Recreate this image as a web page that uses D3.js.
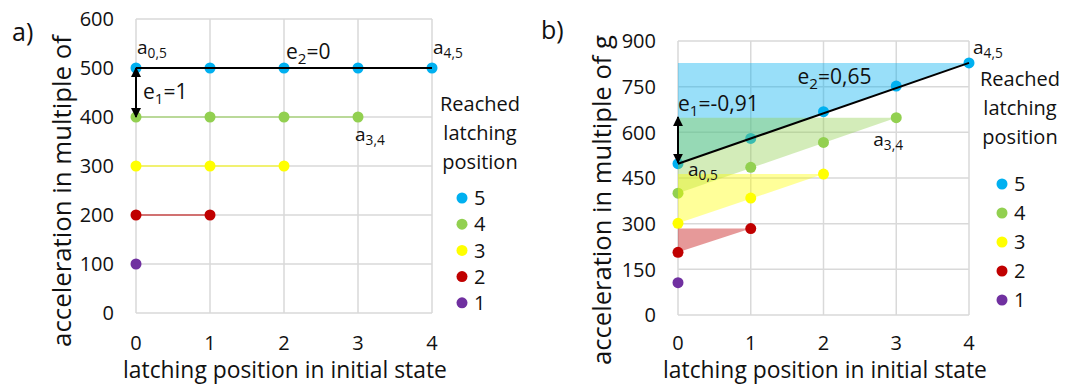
<!DOCTYPE html>
<html lang="en">
<head>
    <meta charset="UTF-8">
    <title>Latching position acceleration</title>
    <script src="https://cdn.jsdelivr.net/npm/d3@7/dist/d3.min.js"></script>
    <style>
        body { margin: 0; background: #fff; }
        text { font-family: "Open Sans", sans-serif; fill: #111; }
    </style>
</head>
<body>
<script type="application/javascript">
    // x categories and legend
    const positions = [0, 1, 2, 3, 4];
    const reached = [5, 4, 3, 2, 1];
    const colors = ['#00b0f0', '#92d050', '#ffff00', '#c00000', '#7030a0'];

    // panel a) values, one array per reached position
    const a5 = [500, 500, 500, 500, 500];
    const a4 = [400, 400, 400, 400];
    const a3 = [300, 300, 300];
    const a2 = [200, 200];
    const a1 = [100];
    const ticksA = [0, 100, 200, 300, 400, 500, 600];
    const arrowA = [500, 400];

    // panel b) values
    const b5 = [497, 580, 668, 752, 828];
    const b4 = [400, 485, 567, 648];
    const b3 = [301, 384, 463];
    const b2 = [206, 284];
    const b1 = [106];
    const ticksB = [0, 150, 300, 450, 600, 750, 900];
    const arrowB = [500, 650];

    const W = 1081, H = 385;
    let svg = d3.select('body')
        .append('svg')
        .attr('width', W)
        .attr('height', H);

    let defs = svg.append('defs');
    defs.append('marker')
        .attr('id', 'head')
        .attr('viewBox', '0 0 10 10')
        .attr('refX', 9).attr('refY', 5)
        .attr('markerWidth', 5).attr('markerHeight', 5)
        .attr('orient', 'auto-start-reverse')
        .append('path')
        .attr('d', 'M0,0 L10,5 L0,10 Z')
        .attr('fill', '#000');

    // text with a subscript part
    function sub(g, x, y, main, low, size) {
        let t = g.append('text')
            .attr('x', x).attr('y', y)
            .attr('font-size', size);
        t.append('tspan').text(main);
        t.append('tspan').attr('font-size', size * 0.72).attr('dy', size * 0.22).text(low);
        return t;
    }
    function rest(t, s, size) {
        t.append('tspan').attr('dy', -size * 0.22).attr('font-size', size).text(s);
        return t;
    }

    // scale font so that the text is w pixels wide
    function fit(t, w) {
        let size = +t.attr('font-size');
        let len = t.node().getComputedTextLength();
        t.attr('font-size', (size * w / len).toFixed(2));
    }

    function panel(o) {
        let g = svg.append('g');
        let x = d3.scaleLinear().domain([0, 4]).range(o.xr);
        let y = d3.scaleLinear().domain([0, d3.max(o.ticks)]).range(o.yr);

        // grid
        g.selectAll('.vg').data(positions).enter().append('line')
            .attr('x1', d => x(d)).attr('x2', d => x(d))
            .attr('y1', y.range()[0]).attr('y2', y.range()[1])
            .attr('stroke', '#d9d9d9').attr('stroke-width', 1.5);
        g.selectAll('.hg').data(o.ticks).enter().append('line')
            .attr('x1', x(0)).attr('x2', x(4))
            .attr('y1', d => y(d)).attr('y2', d => y(d))
            .attr('stroke', '#d9d9d9').attr('stroke-width', 1.5);

        // tick labels
        g.selectAll('.yl').data(o.ticks).enter().append('text')
            .attr('x', x(0) - 22).attr('y', d => y(d)).attr('dy', '0.36em')
            .attr('text-anchor', 'end').attr('font-size', 20)
            .text(d => d);
        g.selectAll('.xl').data(positions).enter().append('text')
            .attr('x', d => x(d)).attr('y', 350)
            .attr('text-anchor', 'middle').attr('font-size', 20)
            .text(d => d);

        // series: triangle area then dots
        o.series.forEach((v, i) => {
            let n = v.length - 1;
            let pts = [[0, v[0]], [n, v[n]], [0, v[n]]];
            if (n > 0) {
                g.append('polygon')
                    .attr('points', pts.map(p => x(p[0]) + ',' + y(p[1])).join(' '))
                    .attr('fill', colors[i]).attr('fill-opacity', 0.4)
                    .attr('stroke', o.flat ? colors[i] : 'none')
                    .attr('stroke-opacity', 0.5).attr('stroke-width', 2);
            }
            g.selectAll('.d' + i).data(v).enter().append('circle')
                .attr('cx', (d, j) => x(j)).attr('cy', d => y(d))
                .attr('r', 5.5).attr('fill', colors[i]);
        });

        // black trend line and arrow
        let top = o.series[0];
        g.append('line')
            .attr('x1', x(0)).attr('y1', y(top[0]))
            .attr('x2', x(top.length - 1)).attr('y2', y(top[top.length - 1]))
            .attr('stroke', '#000').attr('stroke-width', 2);
        g.append('line')
            .attr('x1', x(0)).attr('x2', x(0))
            .attr('y1', y(o.arrow[0])).attr('y2', y(o.arrow[1]))
            .attr('stroke', '#000').attr('stroke-width', 2)
            .attr('marker-start', 'url(#head)').attr('marker-end', 'url(#head)');

        // axis titles
        let xt = g.append('text')
            .attr('x', o.xtC).attr('y', o.xtY)
            .attr('text-anchor', 'middle').attr('font-size', 21)
            .text('latching position in initial state');
        fit(xt, 324);
        let yt = g.append('text')
            .attr('transform', 'translate(' + o.ytX + ',' + o.ytC + ') rotate(-90)')
            .attr('text-anchor', 'middle').attr('font-size', 24)
            .text(o.ytitle);
        fit(yt, o.ytW);

        // panel letter
        g.append('text')
            .attr('x', o.letter[0]).attr('y', o.letter[1])
            .attr('font-family', '"Liberation Serif", serif').attr('font-size', 25)
            .text(o.letter[2]);

        // legend
        ['Reached', 'latching', 'position'].forEach((s, i) => {
            g.append('text')
                .attr('x', o.leg[0]).attr('y', o.leg[1] + i * 29)
                .attr('text-anchor', 'middle').attr('font-size', 20)
                .text(s);
        });
        reached.forEach((r, i) => {
            let cy = o.leg[2] + i * o.leg[3];
            g.append('circle').attr('cx', o.leg[0] - 18).attr('cy', cy)
                .attr('r', 5.5).attr('fill', colors[i]);
            g.append('text').attr('x', o.leg[0] - 6).attr('y', cy).attr('dy', '0.36em')
                .attr('font-size', 20).text(r);
        });

        return {g, x, y};
    }

    const labelFont = '"Liberation Sans", Arial, sans-serif';

    let pa = panel({
        xr: [136, 432], yr: [313, 19], ticks: ticksA, flat: true,
        series: [a5, a4, a3, a2, a1], arrow: arrowA,
        xtC: 285, xtY: 378, ytX: 71, ytC: 191, ytW: 312,
        ytitle: 'acceleration in multiple of',
        letter: [12, 41, 'a)'], leg: [480, 111, 198, 26.2]
    });
    let ga = pa.g, xa = pa.x, ya = pa.y;
    sub(ga, xa(0) + 1, ya(500) - 14, 'a', '0,5', 19).attr('font-family', labelFont);
    sub(ga, xa(4) + 1, ya(500) - 14, 'a', '4,5', 19).attr('font-family', labelFont);
    sub(ga, xa(3) - 3, ya(400) + 24, 'a', '3,4', 19).attr('font-family', labelFont);
    rest(sub(ga, xa(0) + 7, ya(500) + 31, 'e', '1', 21), '=1', 21);
    rest(sub(ga, xa(2) + 2, ya(500) - 9, 'e', '2', 21), '=0', 21);

    let pb = panel({
        xr: [678, 969], yr: [315, 41], ticks: ticksB, flat: false,
        series: [b5, b4, b3, b2, b1], arrow: arrowB,
        xtC: 825, xtY: 378, ytX: 611, ytC: 200, ytW: 330,
        ytitle: 'acceleration in multiple of g',
        letter: [541, 39, 'b)'], leg: [1020, 86, 184, 29]
    });
    let gb = pb.g, xb = pb.x, yb = pb.y;
    sub(gb, xb(4) + 4, yb(828) - 9, 'a', '4,5', 19).attr('font-family', labelFont);
    sub(gb, xb(3) - 23, yb(648) + 28, 'a', '3,4', 19).attr('font-family', labelFont);
    sub(gb, xb(0) + 10, yb(497) + 12, 'a', '0,5', 19).attr('font-family', labelFont);
    rest(sub(gb, xb(0), yb(650) - 6, 'e', '1', 21), '=-0,91', 21);
    rest(sub(gb, xb(2) - 26, yb(752) - 2, 'e', '2', 21), '=0,65', 21);
</script>
</body>
</html>
